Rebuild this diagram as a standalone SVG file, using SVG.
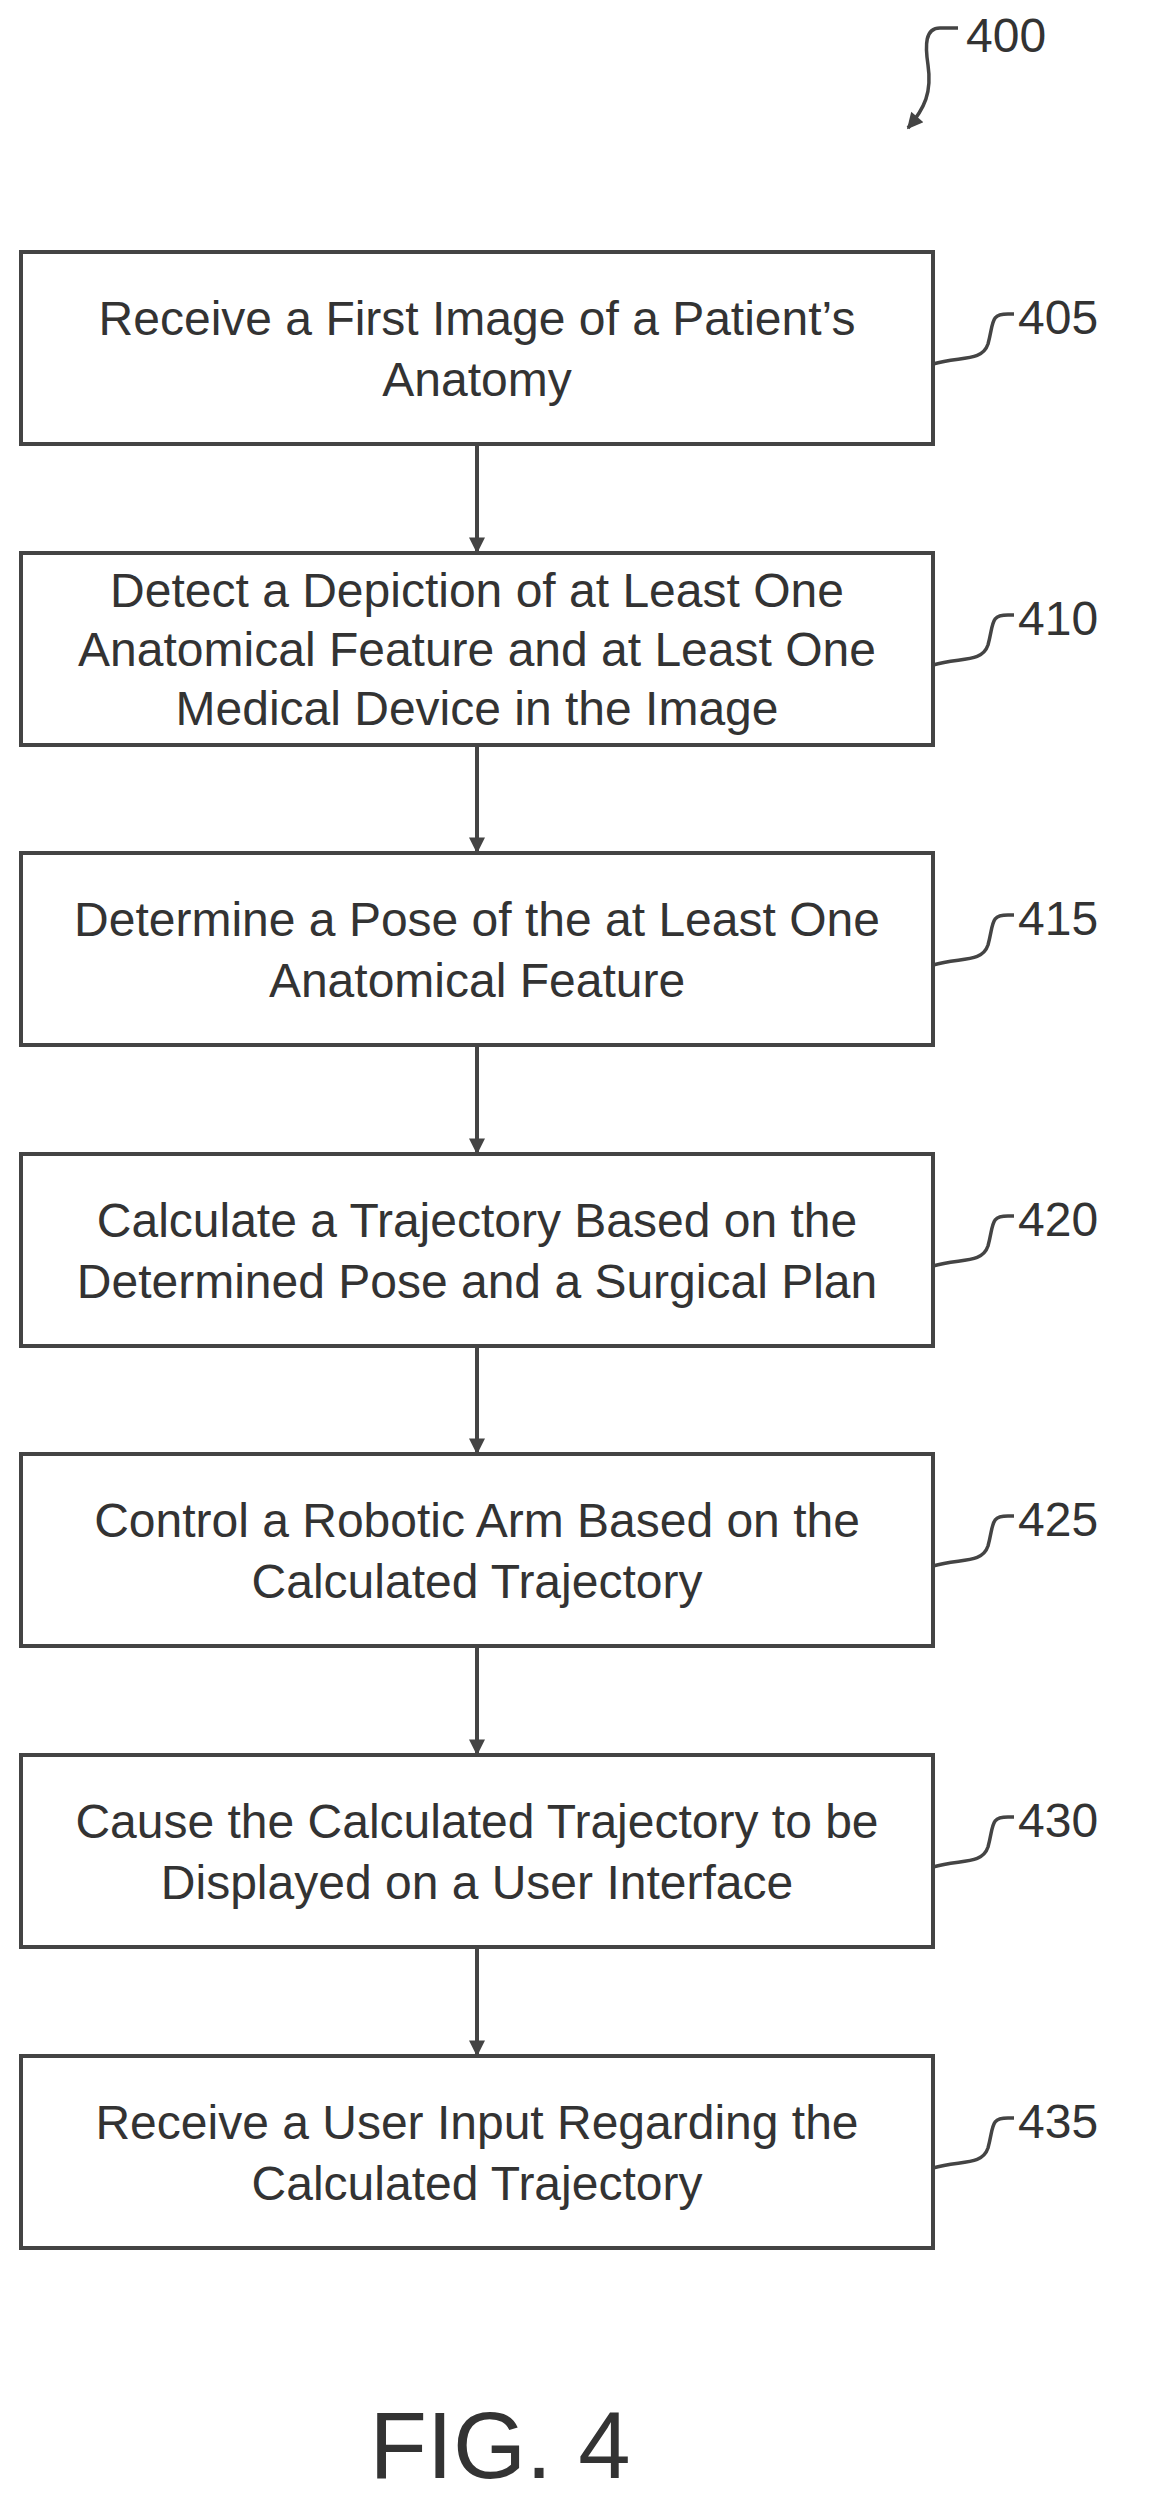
<svg xmlns="http://www.w3.org/2000/svg" width="1161" height="2501" viewBox="0 0 1161 2501">
<style>
.box{fill:#fff;stroke:#444;stroke-width:4}
.t{font-family:"Liberation Sans",Arial,sans-serif;font-size:48px;fill:#333;text-anchor:middle}
.ref{font-family:"Liberation Sans",Arial,sans-serif;font-size:48px;fill:#333}
.sq{fill:none;stroke:#444;stroke-width:3.5}
.c{stroke:#444;stroke-width:4;fill:none}
</style>
<defs>
<marker id="ah2" viewBox="0 0 10 10" refX="9" refY="5" markerWidth="20" markerHeight="16" markerUnits="userSpaceOnUse" orient="auto">
<path d="M0,0 L10,5 L0,10 z" fill="#444"/>
</marker>
</defs>
<rect width="1161" height="2501" fill="#fff"/>
<g id="ref400">
<path class="sq" d="M958,28 L940,28 C925,28 925,45 928,65 C932,92 925,108 908,128" marker-end="url(#ah2)"/>
<text class="ref" x="966" y="52">400</text>
</g>
<g id="connectors">
<line class="c" x1="477" y1="444" x2="477" y2="552" marker-end="url(#ah2)"/>
<line class="c" x1="477" y1="745" x2="477" y2="852" marker-end="url(#ah2)"/>
<line class="c" x1="477" y1="1045" x2="477" y2="1153" marker-end="url(#ah2)"/>
<line class="c" x1="477" y1="1346" x2="477" y2="1453" marker-end="url(#ah2)"/>
<line class="c" x1="477" y1="1646" x2="477" y2="1754" marker-end="url(#ah2)"/>
<line class="c" x1="477" y1="1947" x2="477" y2="2055" marker-end="url(#ah2)"/>
</g>
<g id="n405" transform="translate(0,252)">
<rect class="box" x="21" y="0" width="912" height="192"/>
<text class="t" x="477" y="83">Receive a First Image of a Patient’s</text>
<text class="t" x="477" y="144">Anatomy</text>
<path class="sq" d="M933,112 C960,104 982,110 988,92 C994,70 990,62 1008,62 L1014,62"/>
<text class="ref" x="1018" y="82">405</text>
</g>
<g id="n410" transform="translate(0,553)">
<rect class="box" x="21" y="0" width="912" height="192"/>
<text class="t" x="477" y="54">Detect a Depiction of at Least One</text>
<text class="t" x="477" y="113">Anatomical Feature and at Least One</text>
<text class="t" x="477" y="172">Medical Device in the Image</text>
<path class="sq" d="M933,112 C960,104 982,110 988,92 C994,70 990,62 1008,62 L1014,62"/>
<text class="ref" x="1018" y="82">410</text>
</g>
<g id="n415" transform="translate(0,853)">
<rect class="box" x="21" y="0" width="912" height="192"/>
<text class="t" x="477" y="83">Determine a Pose of the at Least One</text>
<text class="t" x="477" y="144">Anatomical Feature</text>
<path class="sq" d="M933,112 C960,104 982,110 988,92 C994,70 990,62 1008,62 L1014,62"/>
<text class="ref" x="1018" y="82">415</text>
</g>
<g id="n420" transform="translate(0,1154)">
<rect class="box" x="21" y="0" width="912" height="192"/>
<text class="t" x="477" y="83">Calculate a Trajectory Based on the</text>
<text class="t" x="477" y="144">Determined Pose and a Surgical Plan</text>
<path class="sq" d="M933,112 C960,104 982,110 988,92 C994,70 990,62 1008,62 L1014,62"/>
<text class="ref" x="1018" y="82">420</text>
</g>
<g id="n425" transform="translate(0,1454)">
<rect class="box" x="21" y="0" width="912" height="192"/>
<text class="t" x="477" y="83">Control a Robotic Arm Based on the</text>
<text class="t" x="477" y="144">Calculated Trajectory</text>
<path class="sq" d="M933,112 C960,104 982,110 988,92 C994,70 990,62 1008,62 L1014,62"/>
<text class="ref" x="1018" y="82">425</text>
</g>
<g id="n430" transform="translate(0,1755)">
<rect class="box" x="21" y="0" width="912" height="192"/>
<text class="t" x="477" y="83">Cause the Calculated Trajectory to be</text>
<text class="t" x="477" y="144">Displayed on a User Interface</text>
<path class="sq" d="M933,112 C960,104 982,110 988,92 C994,70 990,62 1008,62 L1014,62"/>
<text class="ref" x="1018" y="82">430</text>
</g>
<g id="n435" transform="translate(0,2056)">
<rect class="box" x="21" y="0" width="912" height="192"/>
<text class="t" x="477" y="83">Receive a User Input Regarding the</text>
<text class="t" x="477" y="144">Calculated Trajectory</text>
<path class="sq" d="M933,112 C960,104 982,110 988,92 C994,70 990,62 1008,62 L1014,62"/>
<text class="ref" x="1018" y="82">435</text>
</g>
<text x="500" y="2478" font-family="Liberation Sans,Arial,sans-serif" font-size="94" fill="#333" text-anchor="middle">FIG. 4</text>
</svg>
